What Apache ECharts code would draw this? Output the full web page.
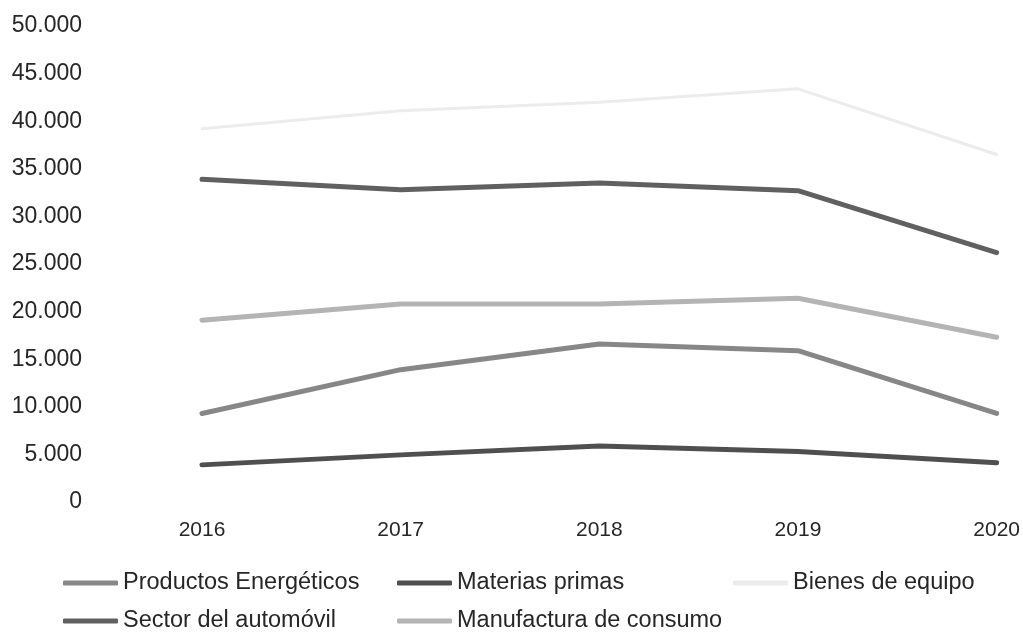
<!DOCTYPE html>
<html>
<head>
<meta charset="utf-8">
<script src="https://cdn.jsdelivr.net/npm/echarts@6/dist/echarts.min.js"></script>
<style>html,body{margin:0;padding:0;background:#fff}#c{width:1023px;height:637px}</style>
</head>
<body>
<div id="c"></div>
<script>
var years = ['2016', '2017', '2018', '2019', '2020'];
var energeticos = [9300, 13900, 16600, 15900, 9300];
var materias = [3900, 4950, 5880, 5300, 4120];
var bienes = [39200, 41100, 42000, 43400, 36500];
var automovil = [33900, 32800, 33500, 32700, 26200];
var manufactura = [19100, 20800, 20800, 21400, 17300];
var yTicks = [0, 5000, 10000, 15000, 20000, 25000, 30000, 35000, 40000, 45000, 50000];

var names = ['Productos Energéticos', 'Materias primas', 'Bienes de equipo', 'Sector del automóvil', 'Manufactura de consumo'];
var colors = ['#878787', '#4f4f4f', '#ececec', '#606060', '#b4b4b4'];
var datas = [energeticos, materias, bienes, automovil, manufactura];

function fmt(v) {
  return String(v).replace(/\B(?=(\d{3})+(?!\d))/g, '.');
}

var legendPos = [[63, 571], [397, 571], [733, 571], [63, 609], [397, 609]];
var legends = names.map(function (n, i) {
  return {
    data: [n], left: legendPos[i][0], top: legendPos[i][1], padding: 0,
    icon: 'roundRect', itemWidth: 55, itemHeight: 5, orient: 'horizontal',
    selectedMode: false,
    textStyle: { fontFamily: 'Liberation Sans, Arial', fontSize: 23.5, color: '#262626' }
  };
});

var chart = echarts.init(document.getElementById('c'));
chart.setOption({
  animation: false,
  legend: legends,
  grid: { left: 202, right: 26, top: 26, bottom: 135, containLabel: false },
  xAxis: {
    type: 'category', data: years, boundaryGap: false,
    axisLine: { show: false }, axisTick: { show: false },
    axisLabel: { margin: 18, fontFamily: 'Liberation Sans, Arial', fontSize: 21, color: '#262626' }
  },
  yAxis: {
    type: 'value', min: yTicks[0], max: yTicks[yTicks.length - 1], interval: 5000,
    splitLine: { show: false }, axisLine: { show: false }, axisTick: { show: false },
    axisLabel: { margin: 120, fontFamily: 'Liberation Sans, Arial', fontSize: 23, color: '#262626', formatter: fmt }
  },
  series: names.map(function (n, i) {
    return {
      name: n, type: 'line', data: datas[i], showSymbol: false, symbol: 'none',
      lineStyle: { width: i === 2 ? 3 : 5, color: colors[i], cap: 'round', join: 'round' },
      itemStyle: { color: colors[i] }
    };
  })
});
</script>
</body>
</html>
